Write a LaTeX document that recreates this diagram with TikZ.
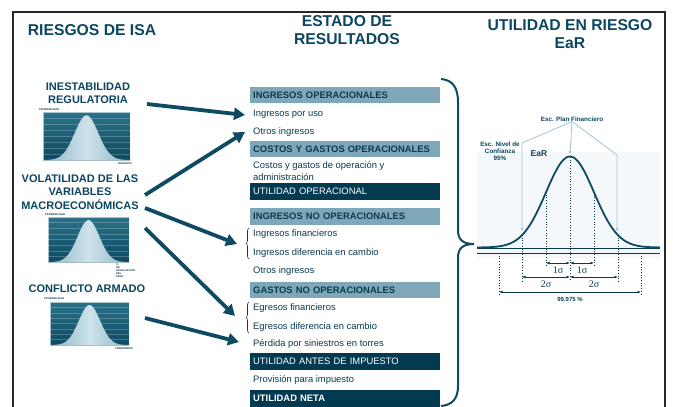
\documentclass[tikz,border=0pt]{standalone}
\usepackage{fontspec}
\setmainfont{Liberation Sans}
\newfontfamily\serifgr{Liberation Serif}
\usetikzlibrary{arrows.meta,decorations.pathreplacing,calc}
\definecolor{titc}{HTML}{0C4660}
\definecolor{dtext}{HTML}{0B3A4F}
\definecolor{lightbox}{HTML}{7FA7BA}
\definecolor{darkbox}{HTML}{023A51}
\definecolor{arrc}{HTML}{0E4A62}
\definecolor{histtop}{HTML}{2B7189}
\definecolor{histbot}{HTML}{0D4A61}
\definecolor{bellA}{HTML}{8AB5C5}
\definecolor{bellB}{HTML}{CFE3EA}
\definecolor{guide}{HTML}{A4C4D2}
\definecolor{chartbg}{HTML}{F5F8FA}
\newcommand\histo[4]{%
  \begin{scope}[shift={(#1,#2)}]
    \shade[top color=histtop,bottom color=histbot] (0,0) rectangle (#3,#4);
    \foreach \k in {1,...,7} \draw[white,opacity=0.22,line width=0.4] (0,{#4*\k/8}) -- (#3,{#4*\k/8});
    \shade[left color=bellA,right color=bellA,middle color=bellB]
      plot[domain=-1:1,samples=60] ({#3/2+\x*#3/2},{#4-0.93*#4*exp(-(\x/0.27)^2/2)}) -- (#3,#4) -- (0,#4) -- cycle;
    \draw[white,opacity=0.6,line width=0.3] (0,0) rectangle (#3,#4);
  \end{scope}}
\begin{document}
\begin{tikzpicture}[x=1pt,y=-1pt,
  title/.style={text=titc,font=\bfseries\fontsize{15.7}{18.5}\selectfont,align=center,inner sep=0pt},
  lbl/.style={text=titc,font=\bfseries\fontsize{11}{13.3}\selectfont,align=center,inner sep=0pt},
  hdr/.style={anchor=west,fill=lightbox,text=dtext,font=\bfseries\fontsize{9.4}{11}\selectfont,
    minimum width=190pt,text width=184pt,inner xsep=3pt,inner ysep=0pt,minimum height=16.5pt,align=left},
  dhdr/.style={hdr,fill=darkbox,text=white,font=\fontsize{9.4}{11}\selectfont},
  item/.style={anchor=west,text=dtext,inner sep=0pt,font=\fontsize{9.4}{11}\selectfont},
  bigarrow/.style={arrc,line width=3.8pt,-{Triangle[length=11pt,width=12pt]}},
  tiny/.style={text=dtext,font=\bfseries\fontsize{2.6}{3}\selectfont,inner sep=0pt,align=left},
  small/.style={text=titc,font=\bfseries\fontsize{6.3}{7.2}\selectfont,inner sep=0pt,align=center},
  guidearrow/.style={guide,line width=0.8pt,-{Latex[length=4pt,width=3pt]}},
  dimarrow/.style={dtext,line width=0.7pt,{Latex[length=3.5pt,width=2.8pt]}-{Latex[length=3.5pt,width=2.8pt]}},
  dots/.style={dtext,dotted,line width=0.7pt},
  sig/.style={text=dtext,font=\serifgr\fontsize{10}{10}\selectfont,inner sep=0pt}
]
\useasboundingbox (0,0) rectangle (673,407);
\fill[white] (0,0) rectangle (673,407);
% frame
\draw[line width=1.6pt,black!85] (13,408) -- (13,12) -- (665,12) -- (665,408);

% titles
\node[title] (t1) at (92,30) {RIESGOS DE ISA};
\node[title] (t2) at (347,30) {ESTADO DE\\RESULTADOS};
\node[title] (t3) at (570,34) {UTILIDAD EN RIESGO\\EaR};

% left column
\node[lbl] (inest) at (88,93.5) {INESTABILIDAD\\REGULATORIA};
\histo{43}{112}{87}{48}
\node[tiny,anchor=south west] (p1) at (39,111) {PROBABILIDAD};
\node[tiny,anchor=north east] (i1) at (132,162) {INGRESOS};

\node[lbl] (vol) at (80,192) {VOLATILIDAD DE LAS\\VARIABLES\\MACROECONÓMICAS};
\histo{48}{217}{81}{45}
\node[tiny,anchor=south west] (p2) at (45,216) {PROBABILIDAD};
\node[tiny,anchor=north west] (d2) at (116,263) {\%\\DE\\DEVALUACIÓN\\DEL\\PESO};

\node[lbl] (conf) at (87,289) {CONFLICTO ARMADO};
\histo{50}{302}{79}{43}
\node[tiny,anchor=south west] (p3) at (44,300) {PROBABILIDAD};
\node[tiny,anchor=north east] (i3) at (133,347) {TERRORISMO};

% middle column
\node[hdr] (io) at (250,95) {INGRESOS OPERACIONALES};
\node[item] (ipu) at (253,114) {Ingresos por uso};
\node[item] (oi1) at (253,132) {Otros ingresos};
\node[hdr] (cgo) at (250,149) {COSTOS Y GASTOS OPERACIONALES};
\node[item,align=left,font=\fontsize{9.4}{12}\selectfont] (cg) at (253,171) {Costos y gastos de operación y\\administración};
\node[dhdr] (uo) at (250,191.5) {UTILIDAD OPERACIONAL};
\node[hdr] (ino) at (250,216.5) {INGRESOS NO OPERACIONALES};
\node[item] (if) at (253,234) {Ingresos financieros};
\node[item] (idc) at (253,253) {Ingresos diferencia en cambio};
\node[item] (oi2) at (253,271) {Otros ingresos};
\node[hdr] (gno) at (250,290) {GASTOS NO OPERACIONALES};
\node[item] (ef) at (253,308) {Egresos financieros};
\node[item] (edc) at (253,327) {Egresos diferencia en cambio};
\node[item] (pst) at (253,344) {Pérdida por siniestros en torres};
\node[dhdr] (uai) at (250,361.5) {UTILIDAD ANTES DE IMPUESTO};
\node[item] (ppi) at (253,380) {Provisión para impuesto};
\node[dhdr,font=\bfseries\fontsize{9.4}{11}\selectfont] (un) at (250,398.5) {UTILIDAD NETA};

% small braces
\draw[decorate,decoration={brace,amplitude=3pt},dtext,line width=0.6pt] (249,259) -- (249,228);
\draw[decorate,decoration={brace,amplitude=3pt},dtext,line width=0.6pt] (249,333) -- (249,302);

% big brace
\draw[arrc,line width=2pt] (441,79) .. controls (453,80) and (458,88) .. (458,102) -- (458,230)
  .. controls (458,239) and (462,244) .. (474,244) .. controls (462,244) and (458,249) .. (458,258)
  -- (458,386) .. controls (458,399) and (452,405) .. (441,406);

% arrows
\coordinate (s1) at (147,104); \coordinate (e1) at (245,115);
\coordinate (s2) at (145,195); \coordinate (e2) at (245,132);
\coordinate (s3) at (145,208); \coordinate (e3) at (237,244);
\coordinate (s4) at (145,228); \coordinate (e4) at (235,316);
\coordinate (s5) at (145,318); \coordinate (e5) at (239,342);
\draw[bigarrow] (s1) -- (e1);
\draw[bigarrow] (s2) -- (e2);
\draw[bigarrow] (s3) -- (e3);
\draw[bigarrow] (s4) -- (e4);
\draw[bigarrow] (s5) -- (e5);

% right chart
\fill[chartbg] (477,152) rectangle (660,258);
\draw[dtext,line width=0.9pt] (477,248.5) -- (660,248.5);
\draw[dtext,line width=0.9pt] (477,253) -- (660,253);
\draw[arrc,line width=1.8pt] plot[domain=477:660,samples=120] (\x,{247.5-91*exp(-((\x-570)/24)^2/2)});
% dotted verticals
\draw[dots] (499,253) -- (499,294);
\draw[dots] (522,235) -- (522,281);
\draw[dots] (546,192) -- (546,266);
\draw[dots] (570,157) -- (570,281);
\draw[dots] (594,192) -- (594,266);
\draw[dots] (618,235) -- (618,281);
\draw[dots] (641,253) -- (641,294);
% dimensions
\draw[dimarrow] (546,263) -- (570,263);
\draw[dimarrow] (570,263) -- (594,263);
\draw[dimarrow] (522,277) -- (570,277);
\draw[dimarrow] (570,277) -- (618,277);
\draw[dimarrow] (499,292) -- (641,292);
\node[sig] (s1l) at (558,270) {1σ};
\node[sig] (s1r) at (582,270) {1σ};
\node[sig] (s2l) at (546,284.5) {2σ};
\node[sig] (s2r) at (594,284.5) {2σ};
\node[small,text=dtext,font=\bfseries\fontsize{6}{7}\selectfont] (pct) at (570,299.5) {99.975 \%};
% labels and guides
\node[small] (epf) at (572,119) {Esc. Plan Financiero};
\node[small] (enc) at (500,151) {Esc. Nivel de\\Confianza\\95\%};
\node[text=titc,font=\bfseries\fontsize{8.5}{10}\selectfont,inner sep=0pt] (ear) at (539,154) {EaR};
\coordinate (gl) at (522,143);
\coordinate (gr) at (617,155);
\draw[guidearrow] (epf.south) -- (570,155);
\draw[guidearrow] (epf.south) -- (gl) -- (522,232);
\draw[guidearrow] (epf.south) -- (gr) -- (617,232);
\end{tikzpicture}
\end{document}
